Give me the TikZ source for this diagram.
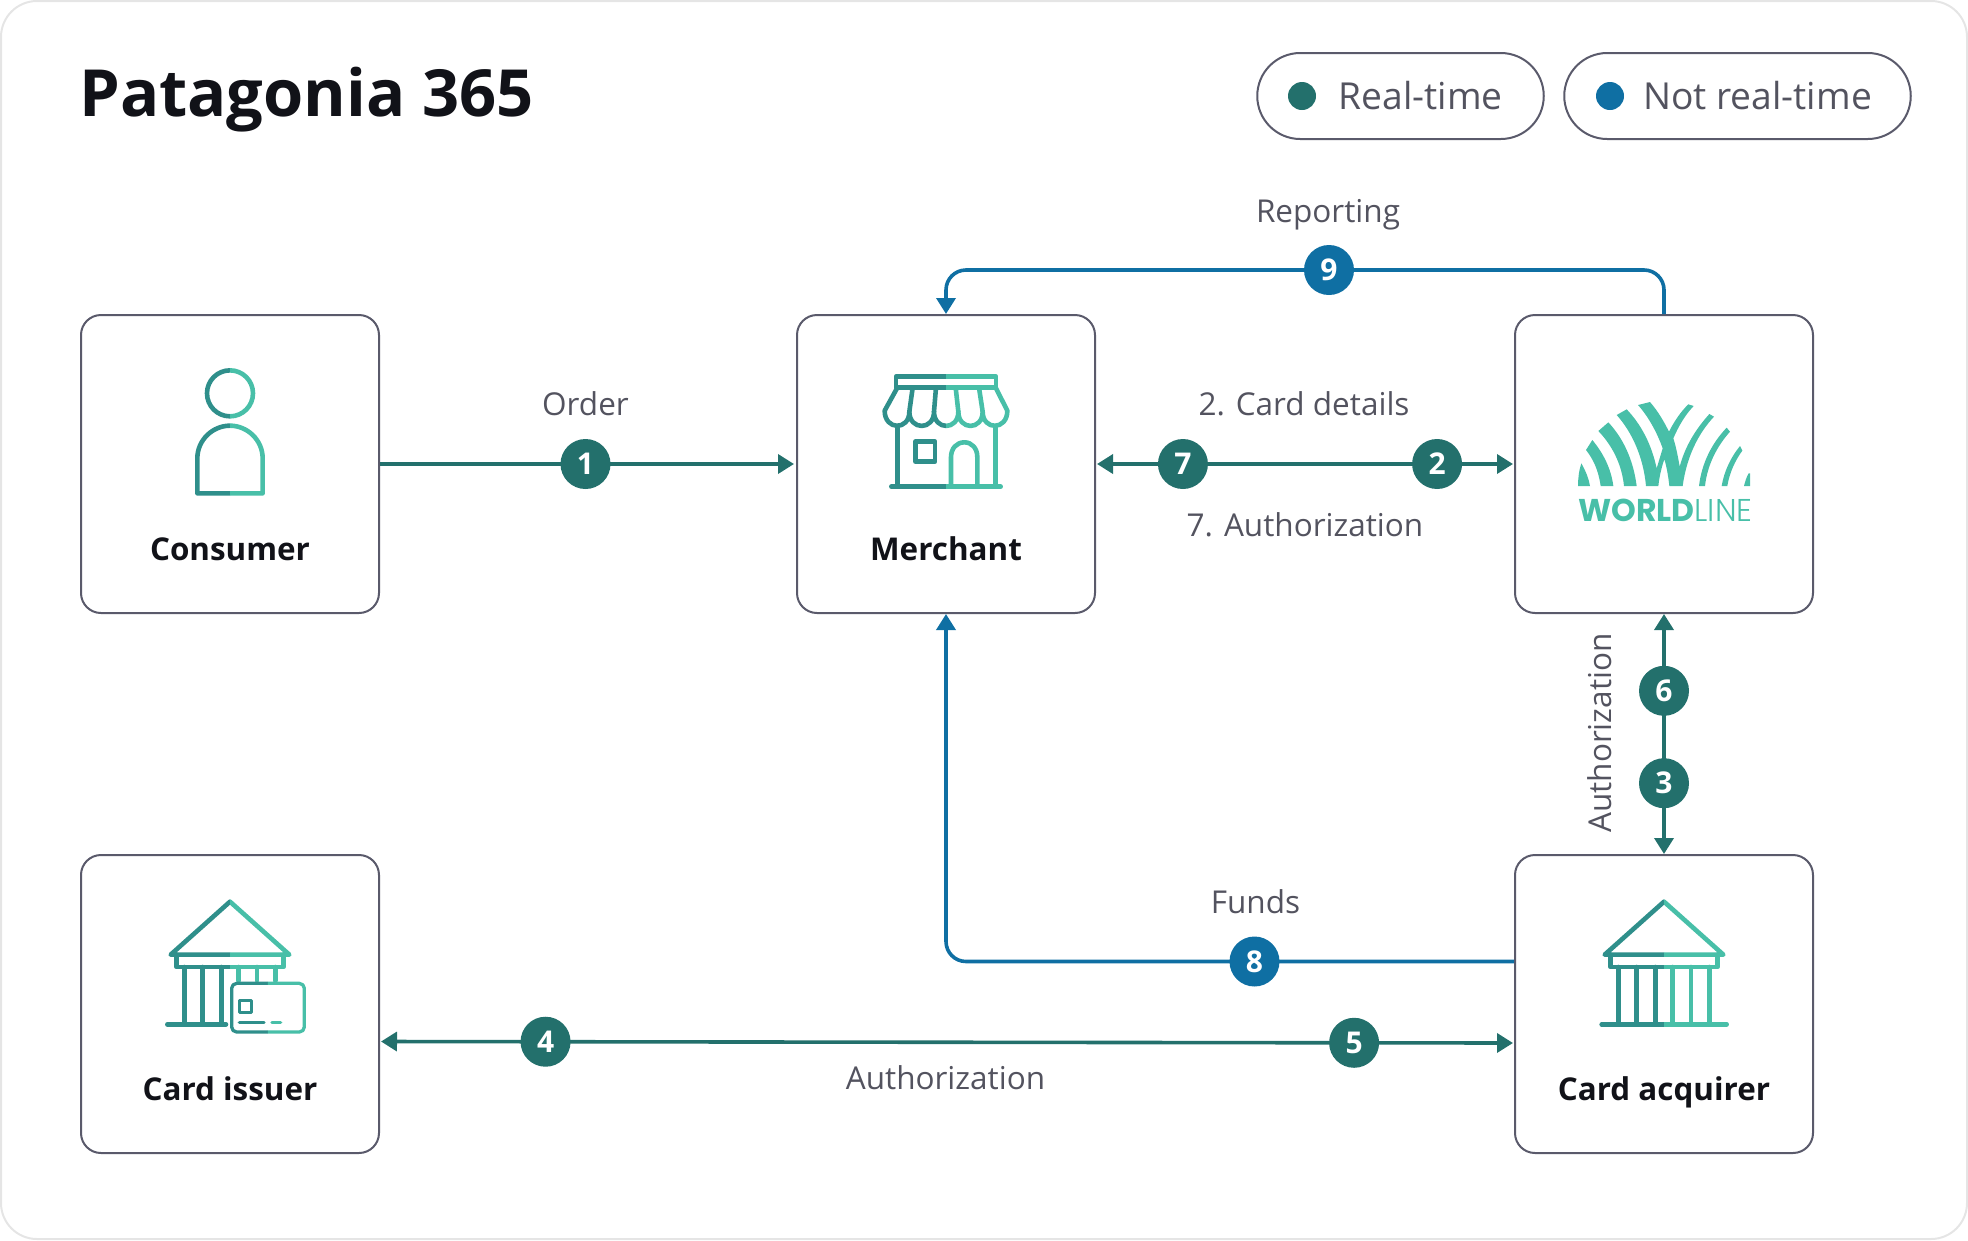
\documentclass[tikz,border=0pt]{standalone}
\usepackage{fontspec}
\setmainfont{Open Sans}
\newfontfamily\logofont{Poppins}
\newfontfamily\logolight{Poppins Light}
\usetikzlibrary{arrows.meta}
\definecolor{rtgreen}{HTML}{23706C}
\definecolor{nrtblue}{HTML}{0F6FA3}
\definecolor{edgegrey}{HTML}{5A5A6B}
\definecolor{labelgrey}{HTML}{53535F}
\definecolor{titleblack}{HTML}{111218}
\definecolor{icondark}{HTML}{2F8F8B}
\definecolor{iconlight}{HTML}{48BFA8}
\tikzset{
  box/.style={draw=edgegrey,line width=2pt,rounded corners=20pt,minimum size=298pt,inner sep=0pt,outer sep=1pt},
  pill/.style={draw=edgegrey,line width=2pt,rounded corners=43pt,minimum height=86pt,inner sep=0pt},
  lbl/.style={font=\fontsize{31.5}{36}\selectfont,text=labelgrey,inner sep=0pt,anchor=base},
  boxlbl/.style={font=\fontsize{31.4}{36}\selectfont\bfseries,text=titleblack,anchor=base,inner sep=0pt},
  stepgreen/.style={circle,fill=rtgreen,text=white,minimum size=50pt,inner sep=0pt,font=\fontsize{30}{34}\selectfont\bfseries},
  stepblue/.style={stepgreen,fill=nrtblue},
  rtline/.style={draw=rtgreen,line width=3.6pt,>={Triangle[length=16pt,width=19pt]}},
  nrtline/.style={draw=nrtblue,line width=3.6pt,rounded corners=20pt,>={Triangle[length=16pt,width=19pt]}},
  iconline/.style={draw=\iconcol,line width=4.6pt,line cap=round,line join=round},
  cardline/.style={draw=\iconcol,line width=3.3pt,line cap=round,line join=round},
}
% icon paths are drawn twice, each half clipped to its colour
\newcommand{\twotone}[2]{%
  \begin{scope}\clip (0,0) rectangle (#1,960);\def\iconcol{icondark}#2\end{scope}
  \begin{scope}\clip (#1,0) rectangle (1020,960);\def\iconcol{iconlight}#2\end{scope}}
\newcommand{\bankroof}[1]{%
  \draw[iconline] (#1-178,314) -- (#1,155) -- (#1+178,314) -- cycle;
  \draw[iconline] (#1-160,314) -- (#1-160,351) -- (#1+160,351) -- (#1+160,314);}
\begin{document}
\begin{tikzpicture}[x=1pt,y=-1pt]
  \useasboundingbox (0,0) rectangle (1968,1240);
  \draw[black!10,line width=2pt,rounded corners=36pt] (1,1) rectangle (1967,1239);

  % title and legend
  \node[font=\fontsize{65}{70}\selectfont\bfseries,text=titleblack,anchor=base west,inner sep=0pt] (title) at (79,116) {Patagonia 365};
  \node[pill,minimum width=286.5pt] (pillrt) at (1400.5,96) {};
  \node[pill,minimum width=346.5pt] (pillnrt) at (1737.5,96) {};
  \node[circle,fill=rtgreen,minimum size=28pt,inner sep=0pt] (dotrt) at (1302,96) {};
  \node[circle,fill=nrtblue,minimum size=28pt,inner sep=0pt] (dotnrt) at (1610,96) {};
  \node[lbl,font=\fontsize{37.2}{42}\selectfont] (textrt) at (1420.5,109.5) {Real-time};
  \node[lbl,font=\fontsize{37.2}{42}\selectfont] (textnrt) at (1757.5,109.5) {Not real-time};

  % boxes
  \node[box] (consumer) at (230,464) {};
  \node[box] (merchant) at (946,464) {};
  \node[box] (worldline) at (1664,464) {};
  \node[box] (issuer) at (230,1004) {};
  \node[box] (acquirer) at (1664,1004) {};
  \node[boxlbl] (consumerlbl) at (230,560) {Consumer};
  \node[boxlbl] (merchantlbl) at (946,560) {Merchant};
  \node[boxlbl] (issuerlbl) at (230,1100) {Card issuer};
  \node[boxlbl] (acquirerlbl) at (1664,1100) {Card acquirer};

  % connectors
  \draw[rtline,->,shorten >=2pt] (consumer.east) -- node[stepgreen,pos=.494] (s1) {1} (merchant.west);
  \draw[rtline,<->,shorten >=1pt,shorten <=1pt] (merchant.east) -- node[stepgreen,pos=.208] (s7) {7} node[stepgreen,pos=.816] (s2) {2} (worldline.west);
  \draw[rtline,<->] (worldline.south) -- node[stepgreen,pos=.32] (s6) {6} node[stepgreen,pos=.705] (s3) {3} (acquirer.north);
  \draw[rtline,<->,shorten >=1pt,shorten <=1pt] ([yshift=-37.5pt]issuer.east) -- node[stepgreen,pos=.146] (s4) {4} node[stepgreen,pos=.859] (s5) {5} ([yshift=-39pt]acquirer.west);
  \draw[nrtline,->] ([yshift=42.5pt]acquirer.west) -| (merchant.south);
  \node[stepblue] (s8) at (1254.5,961.5) {8};
  \draw[nrtline,->] (worldline.north) |- (1329,270) -| (merchant.north);
  \node[stepblue] (s9) at (1329,270) {9};

  % connector labels
  \node[lbl] (lorder) at (585.5,415.5) {Order};
  \node[lbl] (lcard) at (1304,415.5) {2. Card details};
  \node[lbl] (lauth) at (1305,536) {7. Authorization};
  \node[lbl] (lreport) at (1328,222) {Reporting};
  \node[lbl,rotate=90] (lauthv) at (1611,733) {Authorization};
  \node[lbl] (lfunds) at (1255.5,913) {Funds};
  \node[lbl] (lauthh) at (945.5,1089) {Authorization};

  % consumer icon
  \begin{scope}[shift={(60,300)},scale=1/3]
    \twotone{510}{%
      \draw[iconline] (510,280) circle (69);
      \draw[iconline] (412,580) -- (412,475) .. controls (412,420) and (458,377) .. (510,377)
        .. controls (562,377) and (608,420) .. (608,475) -- (608,580) -- cycle;}
  \end{scope}

  % merchant icon
  \begin{scope}[shift={(790,300)},scale=1/3]
    \twotone{468}{%
      \draw[iconline] (318,230) rectangle (618,263);
      \draw[iconline] (322,263) -- (284,332) .. controls (284,392) and (358,392) .. (358,335)
        .. controls (358,392) and (432,392) .. (432,335)
        .. controls (432,392) and (505,392) .. (505,335)
        .. controls (505,392) and (578,392) .. (578,335)
        .. controls (578,392) and (652,392) .. (652,332) -- (617,263);
      \draw[iconline] (368,263) -- (358,335);
      \draw[iconline] (438,263) -- (432,335);
      \draw[iconline] (497,263) -- (505,335);
      \draw[iconline] (567,263) -- (578,335);
      \draw[iconline] (322,378) -- (322,560);
      \draw[iconline] (616,378) -- (616,560);
      \draw[iconline] (304,560) -- (632,560);
      \draw[iconline] (376,425) rectangle (435,485);
      \draw[iconline] (483,560) -- (483,472) .. controls (483,445) and (500,427) .. (523,427)
        .. controls (546,427) and (562,445) .. (562,472) -- (562,560);}
  \end{scope}

  % worldline logo
  \begin{scope}[shift={(1510,300)},scale=1/3]
    \fill[iconlight] (204,558) .. controls (204,535) and (207,510) .. (214,490) .. controls (228,515) and (236,535) .. (240,558) -- cycle;
    \fill[iconlight] (272,558) .. controls (265,510) and (250,478) .. (228,450) -- (247,420) .. controls (280,460) and (303,505) .. (310,558) -- cycle;
    \fill[iconlight] (342,558) .. controls (335,490) and (305,435) .. (265,393) -- (295,367) .. controls (340,415) and (370,480) .. (380,558) -- cycle;
    \fill[iconlight] (408,558) .. controls (400,470) and (365,395) .. (320,345) -- (350,328) .. controls (395,375) and (425,435) .. (440,505)
      -- (458,445) .. controls (440,395) and (415,350) .. (384,315) -- (420,306) .. controls (445,335) and (462,365) .. (477,395)
      .. controls (492,365) and (512,335) .. (535,313) -- (551,318) .. controls (525,345) and (505,380) .. (490,415)
      .. controls (498,440) and (504,470) .. (509,500) .. controls (525,440) and (555,390) .. (598,342) -- (612,350)
      .. controls (565,400) and (530,470) .. (518,558) -- (478,558) .. controls (475,530) and (470,500) .. (463,478)
      .. controls (455,500) and (448,530) .. (445,558) -- cycle;
    \fill[iconlight] (567,558) .. controls (575,490) and (605,430) .. (650,383) -- (660,395) .. controls (620,440) and (592,495) .. (585,558) -- cycle;
    \fill[iconlight] (635,558) .. controls (642,515) and (662,472) .. (690,438) -- (697,452) .. controls (675,482) and (658,520) .. (652,558) -- cycle;
    \fill[iconlight] (702,558) .. controls (705,545) and (710,530) .. (716,520) -- (720,520) -- (720,558) -- cycle;
    \node[font=\fontsize{31.5}{36}\selectfont,text=iconlight,inner sep=0pt,anchor=base west] (logotext) at (204,665) {{\logofont\bfseries WORLD}{\logolight LINE}};
  \end{scope}

  % card issuer icon
  \begin{scope}[shift={(60,850)},scale=1/3]
    \twotone{510}{%
      \bankroof{510}
      \draw[iconline] (373,351) -- (373,523);
      \draw[iconline] (428,351) -- (428,523);
      \draw[iconline] (484,351) -- (484,523);
      \draw[iconline] (536,351) -- (536,392);
      \draw[iconline] (591,351) -- (591,392);
      \draw[iconline] (646,351) -- (646,392);
      \draw[iconline] (322,523) -- (498,523);}
    \twotone{624}{%
      \draw[cardline,rounded corners=5pt] (515,400) rectangle (733,546);
      \draw[cardline] (538,452) rectangle (575,488);
      \draw[cardline] (538,517) -- (612,517);
      \draw[cardline] (636,517) -- (662,517);}
  \end{scope}

  % card acquirer icon
  \begin{scope}[shift={(1510,850)},scale=1/3]
    \twotone{462}{%
      \bankroof{462}
      \draw[iconline] (325,351) -- (325,523);
      \draw[iconline] (380,351) -- (380,523);
      \draw[iconline] (436,351) -- (436,523);
      \draw[iconline] (488,351) -- (488,523);
      \draw[iconline] (543,351) -- (543,523);
      \draw[iconline] (598,351) -- (598,523);
      \draw[iconline] (275,523) -- (650,523);}
  \end{scope}
\end{tikzpicture}
\end{document}
